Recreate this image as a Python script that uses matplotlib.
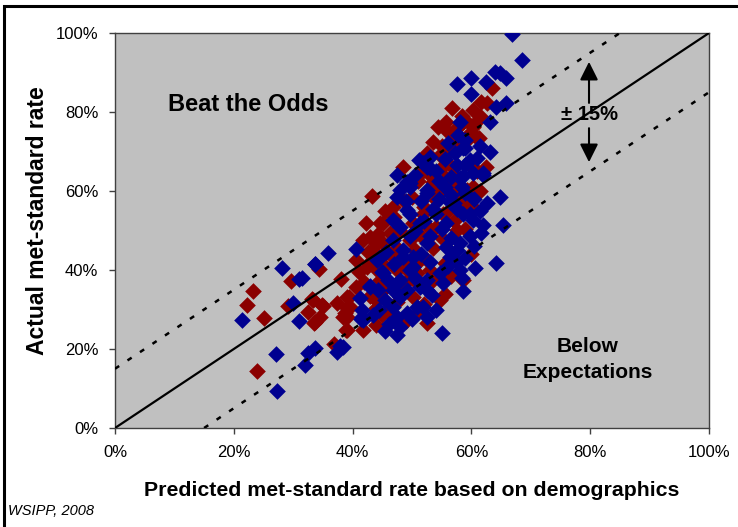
import numpy as np
import matplotlib
matplotlib.use("Agg")
import matplotlib.pyplot as plt
from matplotlib.patches import Rectangle

plt.rcParams["font.family"] = ["Liberation Sans", "DejaVu Sans"]

# ── data (percent) ─────────────────────────────────────────────────────
red_x = [22.3, 23.2, 25.1, 23.9, 29.6, 29.2, 32.5, 33.2, 33.5, 34.5, 35.0, 34.4,
         36.9, 38.0, 37.4, 39.0, 38.7, 38.9, 41.8, 42.3, 41.0, 40.6, 39.6, 41.8,
         39.0, 43.2, 45.1, 44.2, 42.6, 43.0, 44.1, 42.9, 39.4, 39.0, 38.4, 39.1,
         43.9, 33.4, 34.8, 33.7, 46.3, 45.2, 49.7, 50.8, 47.4, 46.3, 44.6, 54.7,
         54.1, 55.3, 54.1, 52.5, 49.7, 44.6, 42.9, 43.5, 42.4, 44.6, 43.5, 45.2,
         51.3, 53.6, 55.6, 54.7, 52.5, 50.8, 58.6, 57.5, 60.3, 50.2, 48.5, 63.4,
         56.7, 58.4, 60.3, 61.6, 62.6, 55.8, 54.3, 60.6, 57.5, 61.2, 59.8, 52.5,
         48.5, 56.4, 60.9, 55.8, 51.9, 54.7, 57.8, 60.3, 60.9, 56.4, 54.7, 53.6,
         59.2, 59.8, 52.5, 55.8, 59.8, 53.6, 57.0, 55.3, 60.3, 59.8, 46.8, 51.9,
         46.8, 48.5, 50.2, 46.3,
         45.5, 47.0, 48.0, 46.0, 44.0, 47.5, 50.5, 51.5, 53.0, 52.0, 50.0, 51.0,
         53.0, 55.0, 56.5, 57.0, 58.5, 56.0, 59.0, 61.5, 57.5, 58.5, 56.0, 57.0,
         55.0, 53.5, 53.0, 51.0, 49.0, 47.5, 45.0, 44.0, 42.0, 40.5, 45.5, 48.5,
         56.5, 55.5, 52.0, 49.0, 60.0, 59.0, 61.5, 62.5, 55.0, 53.5]
red_y = [31.1, 34.7, 27.8, 14.4, 37.3, 30.9, 29.3, 32.7, 26.7, 28.0, 30.9, 40.2,
         21.3, 37.8, 31.7, 33.2, 29.0, 24.8, 47.6, 51.8, 39.6, 35.8, 30.7, 24.8,
         28.2, 58.7, 52.0, 49.1, 44.6, 42.1, 40.0, 33.4, 33.2, 30.3, 28.2, 24.8,
         26.1, 32.4, 31.1, 26.9, 49.3, 46.8, 47.6, 39.2, 40.0, 30.7, 33.2, 61.1,
         57.7, 54.3, 51.0, 42.5, 39.2, 51.8, 48.4, 45.1, 40.8, 37.5, 33.2, 34.9,
         42.5, 37.5, 41.7, 32.4, 26.5, 29.0, 37.5, 50.1, 56.0, 51.8, 57.7, 86.0,
         80.9, 79.1, 80.5, 82.6, 82.2, 77.5, 76.1, 77.1, 75.9, 73.3, 73.7, 69.5,
         66.2, 66.6, 65.0, 63.2, 65.0, 69.1, 76.3, 76.3, 73.4, 62.8, 61.9, 60.3,
         60.3, 74.6, 68.7, 69.5, 66.6, 62.4, 63.7, 60.3, 61.1, 56.1, 56.0, 54.3,
         43.4, 34.9, 33.2, 29.0,
         55.0, 53.5, 50.0, 44.5, 46.5, 45.5, 45.0, 48.5, 50.5, 56.0, 58.5, 62.5,
         64.0, 66.0, 70.5, 73.0, 72.0, 75.0, 78.0, 79.0, 61.0, 58.0, 55.0, 52.5,
         48.0, 45.5, 40.0, 36.5, 37.0, 32.0, 28.5, 30.5, 37.0, 42.5, 41.0, 42.0,
         38.5, 34.0, 31.5, 27.0, 44.0, 50.5, 60.0, 66.0, 71.5, 72.5]

blue_x = [21.3, 27.1, 27.2, 28.1, 30.9, 30.0, 30.9, 33.6, 35.8, 32.5, 33.7, 32.0,
          37.3, 38.4, 40.6, 41.2, 41.5, 42.9, 44.2, 41.5, 41.4, 33.7, 31.4, 48.0,
          46.2, 47.4, 37.9, 44.9, 47.4, 49.1, 48.0, 46.8, 48.5, 50.2, 45.7, 49.7,
          48.0, 49.1, 46.8, 50.8, 49.7, 52.5, 57.0, 58.6, 60.3, 62.6, 64.8, 65.4,
          61.7, 58.1, 55.8, 52.5, 49.7, 46.8, 49.7, 64.2, 60.6, 57.5, 54.7, 50.2,
          45.2, 42.9, 47.4, 51.3, 53.3, 58.6, 48.0, 46.8, 51.9, 49.1, 55.0, 41.8,
          58.1, 55.3, 66.8, 68.6, 57.6, 60.0, 63.9, 64.8, 65.9, 65.8, 64.2, 63.1,
          63.1, 57.8, 56.1, 58.9, 51.1, 53.0, 60.9, 58.9, 62.0, 49.1, 54.1, 58.1,
          58.6, 57.2, 59.8, 57.5, 52.5, 47.4, 49.7, 48.0, 52.5, 58.6, 60.3, 53.0,
          51.9, 62.0, 58.4, 56.4, 59.8, 44.1, 48.5, 51.3, 54.1, 55.8, 59.8, 52.5,
          56.4,
          50.5, 52.0, 53.5, 54.5, 55.5, 56.5, 54.5, 53.0, 55.0, 56.5, 57.5, 59.0,
          56.0, 53.0, 51.5, 50.5, 52.5, 54.0, 52.5, 50.0, 45.5, 44.5, 43.5, 46.0,
          44.5, 47.0, 49.0, 51.5, 50.5, 55.5, 56.5, 59.0, 60.5, 61.5, 62.0, 57.5,
          59.0, 58.0, 61.5, 60.0, 62.5, 58.5, 60.5, 47.5, 45.5]
blue_y = [27.3, 18.7, 9.4, 40.4, 37.7, 31.7, 27.2, 41.4, 44.4, 18.9, 20.2, 15.9,
          19.3, 20.6, 45.3, 32.8, 29.9, 35.9, 34.9, 28.2, 27.5, 41.5, 37.9, 25.6,
          26.3, 28.2, 20.8, 39.6, 58.6, 55.2, 51.0, 47.6, 45.1, 43.4, 44.6, 40.0,
          37.5, 34.9, 34.9, 30.7, 61.1, 59.4, 56.9, 54.3, 52.7, 56.9, 58.6, 51.4,
          49.3, 46.8, 45.9, 46.8, 48.5, 52.7, 54.3, 41.7, 40.4, 42.1, 39.2, 40.8,
          39.2, 35.8, 36.6, 35.8, 33.7, 34.6, 33.2, 30.7, 30.7, 29.0, 24.0, 27.3,
          40.0, 36.6, 99.7, 93.2, 87.0, 88.7, 90.2, 89.8, 88.5, 82.4, 81.3, 77.5,
          70.0, 74.2, 72.1, 70.8, 67.8, 65.7, 68.3, 66.6, 64.5, 62.4, 65.0, 63.2,
          70.8, 69.5, 67.8, 66.6, 66.2, 64.1, 61.9, 60.3, 60.3, 63.7, 64.5, 68.7,
          67.0, 64.1, 61.1, 57.3, 54.3, 42.5, 43.4, 51.8, 54.3, 51.8, 48.5, 37.5,
          43.4,
          50.0, 52.5, 55.5, 58.0, 61.0, 63.5, 62.5, 48.5, 50.5, 48.0, 45.0, 43.0,
          41.0, 42.0, 44.0, 38.0, 35.0, 30.0, 28.0, 27.5, 32.5, 30.0, 28.5, 37.5,
          43.0, 41.5, 57.5, 57.5, 64.0, 68.0, 59.0, 59.5, 58.0, 55.0, 51.5, 55.5,
          73.0, 77.5, 71.5, 84.5, 87.5, 38.0, 46.0, 23.5, 24.5]

band = 15
ticks = [0, 20, 40, 60, 80, 100]
tick_labels = [f"{t}%" for t in ticks]

# ── figure ─────────────────────────────────────────────────────────────
fig = plt.figure(figsize=(7.38, 5.27), dpi=100)
ax = fig.add_axes([115 / 738, 1 - 428 / 527, 594 / 738, 395 / 527])
ax.set_facecolor("#C0C0C0")

# outer frame (only left / top edges visible in the source)
fig.patches.append(Rectangle((4 / 738, -0.2), 1.2, 1.2 - 6 / 527,
                             transform=fig.transFigure, fill=False,
                             edgecolor="black", lw=2.2))

ax.scatter(red_x, red_y, marker="D", s=72, color="#8B0000", linewidths=0, zorder=3)
ax.scatter(blue_x, blue_y, marker="D", s=72, color="#000090", linewidths=0, zorder=4)

# diagonal + ±15 band
ax.plot([0, 100], [0, 100], color="black", lw=1.6, zorder=5)
ax.plot([0, 100 - band], [band, 100], color="black", lw=1.8,
        linestyle=(0, (2, 4)), zorder=5)
ax.plot([band, 100], [0, 100 - band], color="black", lw=1.8,
        linestyle=(0, (2, 4)), zorder=5)

# ± arrow
arrow = dict(arrowstyle="-|>,head_length=1.1,head_width=0.55", color="black",
             lw=1.5, shrinkA=0, shrinkB=0, mutation_scale=10)
ax.annotate("", xy=(79.8, 92.7), xytext=(79.8, 82.3), arrowprops=arrow, zorder=6)
ax.annotate("", xy=(79.8, 67.3), xytext=(79.8, 75.9), arrowprops=arrow, zorder=6)
ax.text(79.8, 79.3, "± 15%", ha="center", va="center", fontsize=14.5,
        fontweight="bold", zorder=6)

ax.text(22.4, 81.8, "Beat the Odds", ha="center", va="center", fontsize=17,
        fontweight="bold")
ax.text(79.6, 17.4, "Below\nExpectations", ha="center", va="center", fontsize=15,
        fontweight="bold", linespacing=1.5)

ax.set_xlim(0, 100)
ax.set_ylim(0, 100)
ax.set_xticks(ticks)
ax.set_xticklabels(tick_labels)
ax.set_yticks(ticks)
ax.set_yticklabels(tick_labels)
ax.tick_params(direction="out", length=4, width=1, color="#404040",
               labelsize=12, pad=8)
for sp in ax.spines.values():
    sp.set_color("#404040")
    sp.set_linewidth(1)

ax.set_xlabel("Predicted met-standard rate based on demographics",
              fontsize=15.3, fontweight="bold", labelpad=15)
ax.set_ylabel("Actual met-standard rate", fontsize=16.5, fontweight="bold")
ax.yaxis.set_label_coords(-0.111, 0.524)

fig.text(8 / 738, 1 - 511 / 527, "WSIPP, 2008", fontsize=10.5, style="italic",
         va="center", ha="left")

fig.savefig("out.png", dpi=100)
